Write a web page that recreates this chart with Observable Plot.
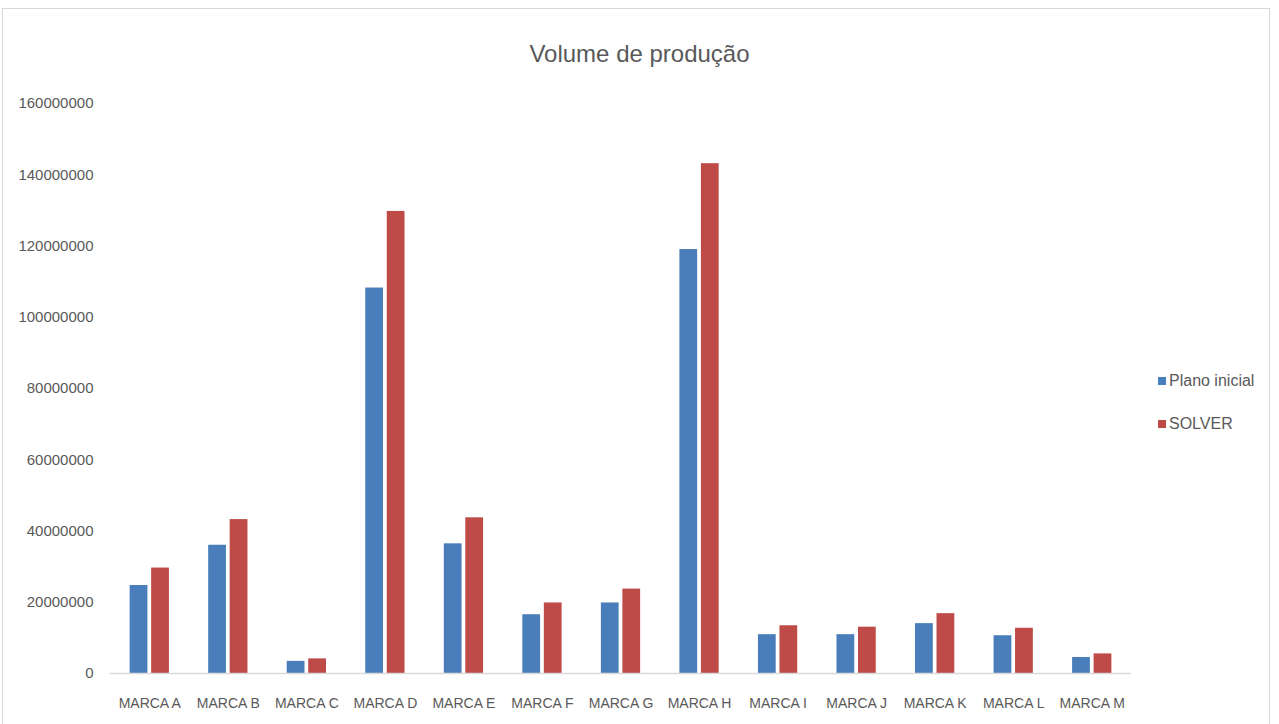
<!DOCTYPE html>
<html>
<head>
<meta charset="utf-8">
<script src="https://cdn.jsdelivr.net/npm/d3@7"></script>
<script src="https://cdn.jsdelivr.net/npm/@observablehq/plot@0.6"></script>
<style>
  html, body { margin: 0; padding: 0; background: #fff; width: 1279px; height: 724px; overflow: hidden; }
  body { position: relative; font-family: "Liberation Sans", sans-serif; color: #595959; }
  #frame { position: absolute; left: 2px; top: 8px; width: 1268px; height: 730px; border: 1px solid #d9d9d9; box-sizing: border-box; }
  #title { position: absolute; left: 0; width: 1279px; top: 40px; text-align: center; font-size: 24px; color: #595959; }
  #chart { position: absolute; left: 0; top: 90px; }
  #legend { position: absolute; left: 1158px; top: 370px; font-size: 16px; color: #595959; }
  #legend div { height: 22px; line-height: 22px; margin-bottom: 21px; white-space: nowrap; }
  #legend span.sw { display: inline-block; width: 8px; height: 8px; margin-right: 3px; vertical-align: 1px; }
  #chart svg g[aria-label="x-axis tick label"] text { font-size: 14px; }
</style>
</head>
<body>
<div id="frame"></div>
<div id="title">Volume de produção</div>
<div id="chart"></div>
<div id="legend"></div>
<script>
const brands = ["MARCA A","MARCA B","MARCA C","MARCA D","MARCA E","MARCA F","MARCA G","MARCA H","MARCA I","MARCA J","MARCA K","MARCA L","MARCA M"];
const planoInicial = [24700000, 36000000, 3400000, 108200000, 36400000, 16500000, 19800000, 119000000, 10900000, 10900000, 14000000, 10600000, 4500000];
const solver = [29600000, 43200000, 4100000, 129700000, 43700000, 19800000, 23700000, 143100000, 13400000, 13000000, 16800000, 12700000, 5500000];
const seriesNames = ["Plano inicial", "SOLVER"];
const seriesColors = ["#4a7ebb", "#be4b48"];
const yTicks = [0, 20000000, 40000000, 60000000, 80000000, 100000000, 120000000, 140000000, 160000000];

const rowsA = brands.map((b, i) => ({brand: b, value: planoInicial[i]}));
const rowsB = brands.map((b, i) => ({brand: b, value: solver[i]}));

const chart = Plot.plot({
  width: 1140,
  height: 634,
  marginLeft: 110,
  marginRight: 9,
  marginTop: 13,
  marginBottom: 51,
  style: {fontFamily: '"Liberation Sans", sans-serif', fontSize: "15px", color: "#595959", background: "transparent"},
  x: {domain: brands, paddingInner: 0.5, paddingOuter: 0.25, round: false, label: null, tickSize: 0, tickPadding: 25},
  y: {domain: [0, 160000000], ticks: yTicks, tickFormat: d => String(d), label: null, tickSize: 0, tickPadding: 17},
  marks: [
    Plot.barY(rowsA, {x: "brand", y: "value", fill: seriesColors[0], insetRight: 21.5}),
    Plot.barY(rowsB, {x: "brand", y: "value", fill: seriesColors[1], insetLeft: 21.5}),
    Plot.ruleY([0], {stroke: "#d9d9d9", strokeWidth: 1.5})
  ]
});
document.getElementById("chart").appendChild(chart);

const legend = document.getElementById("legend");
seriesNames.forEach((name, i) => {
  const row = document.createElement("div");
  const sw = document.createElement("span");
  sw.className = "sw";
  sw.style.background = seriesColors[i];
  row.appendChild(sw);
  row.appendChild(document.createTextNode(name));
  legend.appendChild(row);
});
</script>
</body>
</html>
